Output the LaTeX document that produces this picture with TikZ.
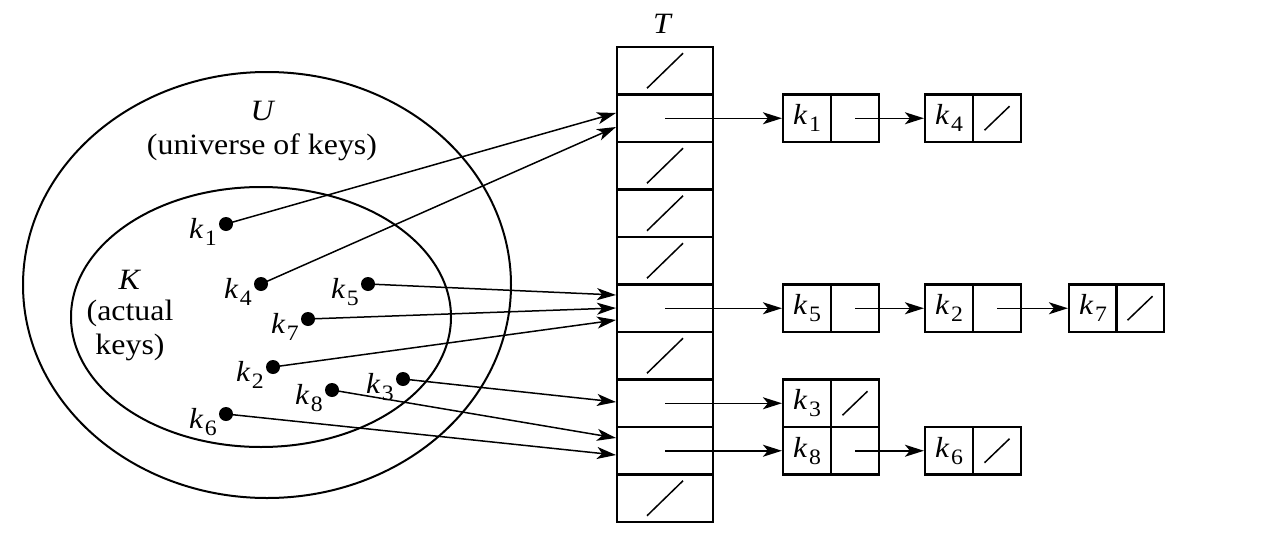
\documentclass[tikz,border=0pt]{standalone}
\usepackage{fontspec}
\setmainfont[FakeStretch=1.08]{Liberation Serif}
\usetikzlibrary{arrows.meta}
\newcommand\kl[1]{\textit{k}\kern1.5pt\raisebox{-7pt}{\fontsize{22}{22}\selectfont #1}}
\tikzset{
  cell/.style={draw, line width=2.2pt, rectangle, minimum width=96pt, minimum height=47.5pt, inner sep=0pt},
  fld/.style={draw, line width=2.2pt, rectangle, minimum width=48pt, minimum height=47.5pt, inner sep=0pt, font=\fontsize{29}{30}\selectfont},
  dot/.style={circle, fill, inner sep=0pt, minimum size=14pt},
  lbl/.style={anchor=base east, inner sep=0pt, font=\fontsize{29}{30}\selectfont},
  txt/.style={font=\fontsize{29.5}{30}\selectfont, inner sep=0pt},
  arr/.style={line width=1.5pt, -{Stealth[length=19pt,width=12pt,inset=5pt]}},
  slash/.style={line width=1.5pt},
  ring/.style={line width=2pt}
}
\begin{document}
\begin{tikzpicture}[x=1pt,y=-1pt]
\useasboundingbox (0,0) rectangle (1282,554);
% ellipses
\draw[ring] (267,285) ellipse [x radius=244pt, y radius=213pt];
\draw[ring] (261,317) ellipse [x radius=190pt, y radius=130pt];
\node[txt] (U) at (263,111) {\textit{U}};
\node[txt] (Ut) at (262,147) {(universe of keys)};
\node[txt] (K) at (130,280) {\textit{K}};
\node[txt] (Kt1) at (130,313) {(actual};
\node[txt] (Kt2) at (130,347) {keys)};
% table
\node[txt] (T) at (663,24) {\textit{T}};
\foreach \i in {0,...,9}{
  \node[cell] (c\i) at (665,{70.75+47.5*\i}) {};
}
\foreach \i in {0,2,3,4,6,9}{
  \draw[slash] ([xshift=-18pt,yshift=-17.5pt]c\i.center) -- ([xshift=18pt,yshift=17.5pt]c\i.center);
}
% list elements
\node[fld] (k1a) at (807,118.25) {\kl1};
\node[fld] (k1b) at (855,118.25) {};
\node[fld] (k4a) at (949,118.25) {\kl4};
\node[fld] (k4b) at (997,118.25) {};
\node[fld] (k5a) at (807,308.25) {\kl5};
\node[fld] (k5b) at (855,308.25) {};
\node[fld] (k2a) at (949,308.25) {\kl2};
\node[fld] (k2b) at (997,308.25) {};
\node[fld] (k7a) at (1093,308.25) {\kl7};
\node[fld] (k7b) at (1140,308.25) {};
\node[fld] (k3a) at (807,403.25) {\kl3};
\node[fld] (k3b) at (855,403.25) {};
\node[fld] (k8a) at (807,450.75) {\kl8};
\node[fld] (k8b) at (855,450.75) {};
\node[fld] (k6a) at (949,450.75) {\kl6};
\node[fld] (k6b) at (997,450.75) {};
\foreach \n in {k4b,k7b,k3b,k6b}{
  \draw[slash] ([xshift=-12.5pt,yshift=-12pt]\n.center) -- ([xshift=12.5pt,yshift=12pt]\n.center);
}
% table to lists
\draw[arr] (c1.center) -- (k1a.west);
\draw[arr] (c5.center) -- (k5a.west);
\draw[arr] (c7.center) -- (k3a.west);
\draw[arr] (c8.center) -- (k8a.west);
\draw[arr] (k1b.center) -- (k4a.west);
\draw[arr] (k5b.center) -- (k2a.west);
\draw[arr] (k2b.center) -- (k7a.west);
\draw[arr] (k8b.center) -- (k6a.west);
% keys
\node[dot] (d1) at (226,224) {};
\node[dot] (d4) at (261,284) {};
\node[dot] (d5) at (368,284) {};
\node[dot] (d7) at (308,319) {};
\node[dot] (d2) at (273,367) {};
\node[dot] (d3) at (403,379) {};
\node[dot] (d8) at (332,390) {};
\node[dot] (d6) at (226,414) {};
\foreach \n in {1,4,5,7,2,3,8,6}{
  \node[lbl] (l\n) at ([xshift=-9pt,yshift=-14pt]d\n.center) {\kl\n};
}
% entry points on table edge
\coordinate (e1) at (616,113);
\coordinate (e4) at (616,127);
\coordinate (e5) at (616,295);
\coordinate (e7) at (616,308);
\coordinate (e2) at (616,320);
\coordinate (e3) at (616,402);
\coordinate (e8) at (616,438);
\coordinate (e6) at (616,455);
\foreach \n in {1,4,5,7,2,3,8,6}{
  \draw[arr] (d\n.center) -- (e\n);
}
\end{tikzpicture}
\end{document}
